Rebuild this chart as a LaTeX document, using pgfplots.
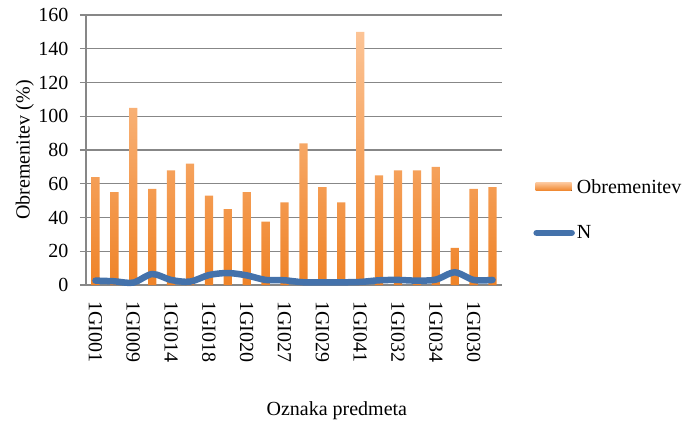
\documentclass[border=0pt]{standalone}
\usepackage{fontspec}
\setmainfont{Liberation Serif}
\usepackage{pgfplots}
\pgfplotsset{compat=1.18}
\definecolor{barTop}{RGB}{252,196,150}
\definecolor{barBot}{RGB}{239,131,40}
\definecolor{lineBlue}{RGB}{68,114,171}
\definecolor{gridGray}{RGB}{135,135,135}
\begin{document}
\begin{tikzpicture}
\begin{axis}[
  at={(0pt,0pt)}, anchor=south west,
  scale only axis, width=416pt, height=270pt,
  xmin=-0.5, xmax=21.5, ymin=0, ymax=160,
  xtick={0,2,...,20},
  xticklabels={1GI001,1GI009,1GI014,1GI018,1GI020,1GI027,1GI029,1GI041,1GI032,1GI034,1GI030},
  ytick={0,20,...,160},
  axis x line*=bottom, axis y line*=left,
  axis line style={gridGray, line width=1.3pt, -},
  ymajorgrids, grid style={gridGray, line width=1.3pt},
  x tick style={draw=none},
  y tick style={gridGray, line width=1.3pt},
  tick align=outside, major tick length=6pt,
  /pgf/number format/assume math mode=true,
  tick label style={font=\fontsize{20}{22}\selectfont},
  yticklabel style={xshift=-8pt},
  xticklabel style={yshift=-7pt, rotate=-90, anchor=west},
  ylabel={Obremenitev (\%)},
  xlabel={Oznaka predmeta},
  every axis y label/.style={at={(axis description cs:-0.147,0.5)}, rotate=90, anchor=center, font=\fontsize{20}{22}\selectfont},
  every axis x label/.style={at={(axis description cs:0.603,-0.466)}, anchor=center, font=\fontsize{20}{22}\selectfont},
  legend style={at={(axis description cs:1.075,0.40)}, anchor=north west, draw=none, fill=none,
    font=\fontsize{20}{22}\selectfont, row sep=27pt, inner sep=0pt},
  legend cell align=left,
  clip=false,
]
\addplot[ybar, bar shift=0pt, bar width=8.3pt, draw=none, top color=barTop, bottom color=barBot,
  legend image code/.code={\fill[top color=barTop, bottom color=barBot] (1pt,-4pt) rectangle (37pt,4pt);}]
coordinates {(0,64) (1,55) (2,105) (3,57) (4,68) (5,72) (6,53) (7,45) (8,55) (9,37.5) (10,49)
 (11,84) (12,58) (13,49) (14,150) (15,65) (16,68) (17,68) (18,70) (19,22) (20,57) (21,58)};
\addlegendentry{Obremenitev}
\addplot[lineBlue, line width=6.5pt, smooth, line cap=round,
  legend image code/.code={\draw[lineBlue, line width=6.5pt, line cap=round] (2pt,0pt) -- (37pt,0pt);}]
coordinates {(0,2.6) (1,2.2) (2,1.4) (3,6.5) (4,3) (5,2) (6,5.9) (7,7.1) (8,5.7) (9,3) (10,2.8)
 (11,1.6) (12,1.6) (13,1.6) (14,1.8) (15,2.8) (16,3) (17,2.6) (18,3.2) (19,7.5) (20,3) (21,3)};
\addlegendentry{N}
\end{axis}
\pgfresetboundingbox
\path[use as bounding box] (-86pt,-136pt) rectangle (599pt,285pt);
\end{tikzpicture}
\end{document}
